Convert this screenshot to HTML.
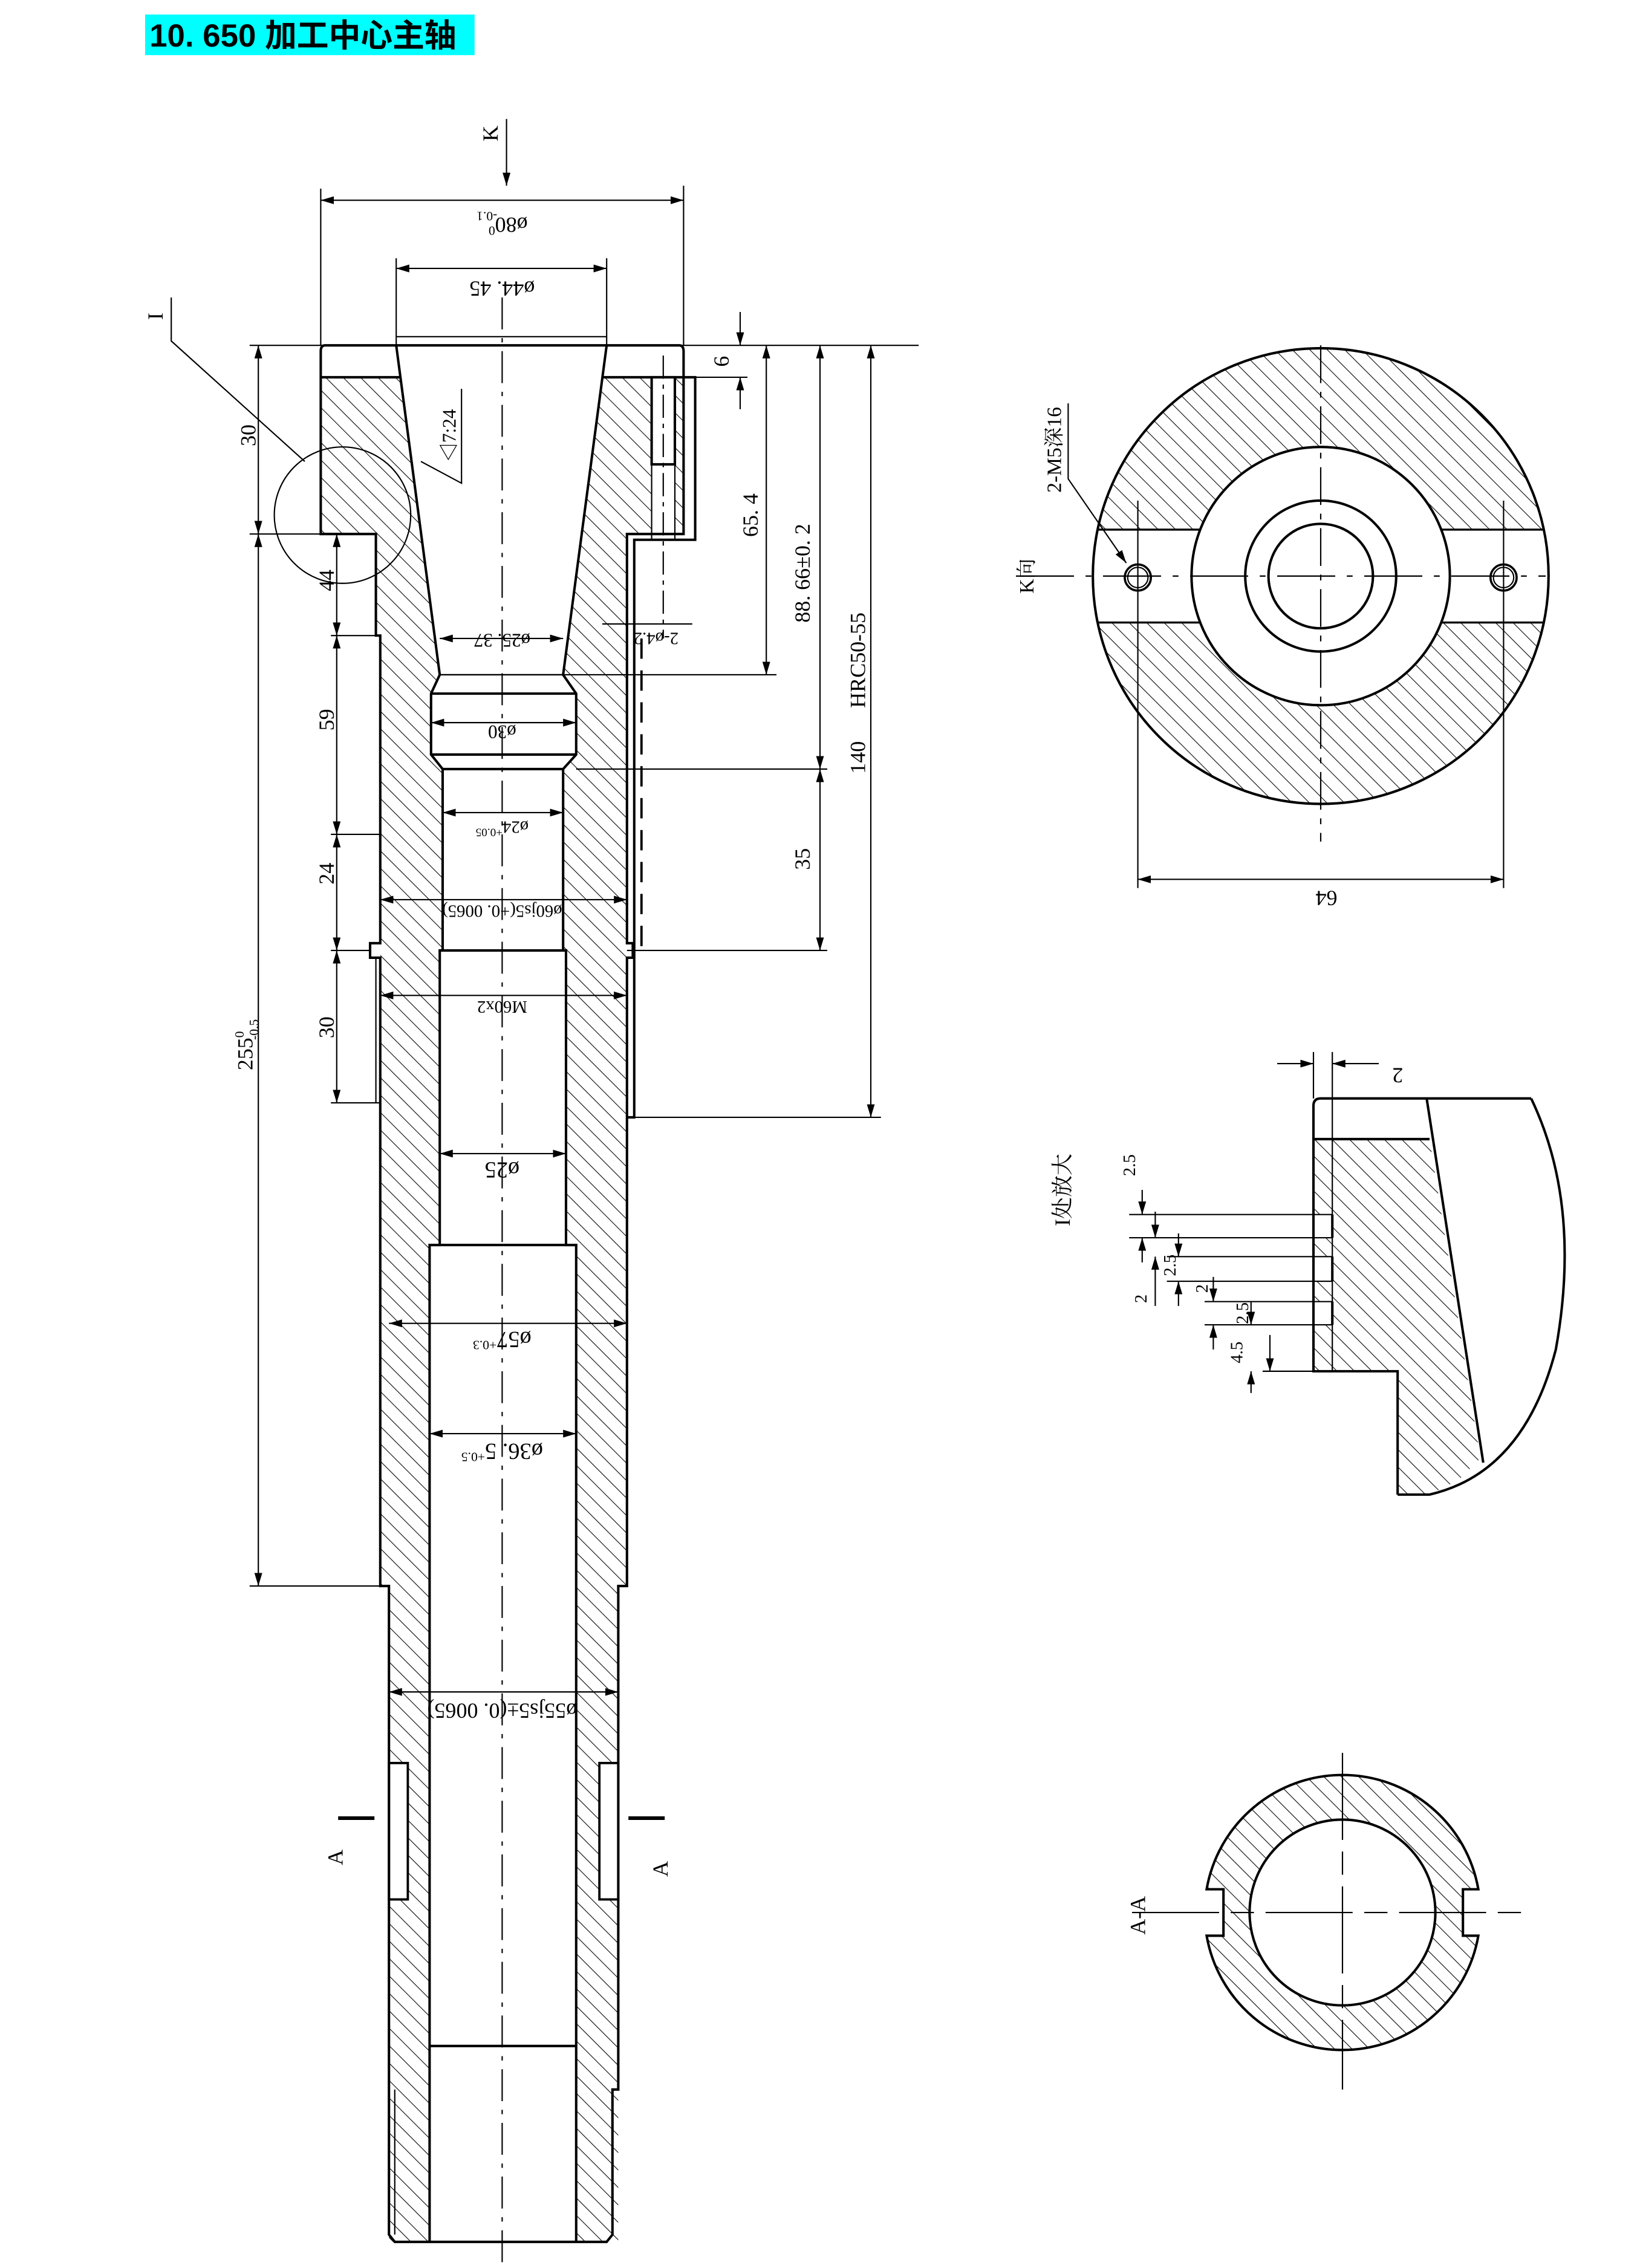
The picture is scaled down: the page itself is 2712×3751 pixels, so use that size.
<!DOCTYPE html>
<html><head><meta charset="utf-8"><style>
html,body{margin:0;padding:0;background:#fff;}
svg{display:block;}
text{font-family:"Liberation Serif","Noto Serif CJK SC",serif;fill:#000;}
</style></head><body>
<svg width="2712" height="3751" viewBox="0 0 1130 1563" preserveAspectRatio="none" xmlns="http://www.w3.org/2000/svg">
<defs>
<pattern id="h" width="8.5" height="8.5" patternUnits="userSpaceOnUse" patternTransform="rotate(-45)">
<line x1="0" y1="0" x2="0" y2="8.5" stroke="#000" stroke-width="0.9"/>
</pattern>
<marker id="a" viewBox="0 0 10 10" refX="10" refY="5" markerWidth="9" markerHeight="9" markerUnits="userSpaceOnUse" orient="auto-start-reverse">
<path d="M0,2 L10,5 L0,8 Z" fill="#000"/>
</marker>
<mask id="km">
<circle cx="910" cy="397" r="157" fill="#fff"/>
<circle cx="910" cy="397" r="89" fill="#000"/>
<rect x="740" y="365" width="340" height="64" fill="#000"/>
</mask>
<mask id="am">
<path d="M831.4,1302 A95,95 0 0 1 1018.6,1302 L1008,1302 L1008,1334 L1018.6,1334 A95,95 0 0 1 831.4,1334 L843,1334 L843,1302 Z" fill="#fff"/>
<circle cx="925" cy="1318" r="64" fill="#000"/>
</mask>
</defs>

<!-- title -->
<rect x="100" y="10" width="227" height="28" fill="#00ffff"/>
<text x="103" y="32" style="font-family:'Liberation Sans','Noto Sans CJK SC',sans-serif;font-weight:bold" font-size="22">10. 650 加工中心主轴</text>

<g stroke="#000" fill="none">
<polygon points="221,260 276,260 303,465 297,478 297,520 305,530 305,655 303,655 303,858 296,858 296,1545 268,1545 268,1093 262,1093 262,438 259,438 259,368 221,368" fill="url(#h)" stroke="none"/>
<polygon points="415,260 471,260 471,368 432,368 432,1093 426,1093 426,1545 397,1545 397,858 390,858 390,655 388,655 388,530 397,520 397,478 388,465" fill="url(#h)" stroke="none"/>
<rect x="449" y="260" width="16" height="108" fill="#fff" stroke="none"/>
<rect x="268" y="1215" width="13" height="94" fill="#fff" stroke-width="1.6"/>
<rect x="413" y="1215" width="13" height="94" fill="#fff" stroke-width="1.6"/>

<g stroke-width="1.7">
<path d="M224,238 L468,238 Q471,238 471,242 L471,368 L432,368 L432,650 L436,650 L436,660 L432,660 L432,1093 L426,1093 L426,1440 L422,1440 L422,1540 L418,1545 L272,1545 L268,1540 L268,1440 L268,1093 L262,1093 L262,660 L255,660 L255,650 L262,650 L262,438 L259,438 L259,368 L221,368 L221,242 Q221,238 224,238 Z"/>
<line x1="221" y1="260" x2="276" y2="260"/>
<line x1="415" y1="260" x2="471" y2="260"/>
<polyline points="273,238 303,465 297,478 297,520 305,530 305,655 303,655 303,858 296,858 296,1545"/>
<polyline points="418,238 388,465 397,478 397,520 388,530 388,655 390,655 390,858 397,858 397,1545"/>
<line x1="303" y1="465" x2="388" y2="465" stroke-width="1"/>
<line x1="297" y1="478" x2="397" y2="478"/>
<line x1="297" y1="520" x2="397" y2="520"/>
<line x1="305" y1="530" x2="388" y2="530"/>
<line x1="303" y1="655" x2="390" y2="655"/>
<line x1="296" y1="858" x2="397" y2="858"/>
<line x1="296" y1="1410" x2="397" y2="1410"/>
<rect x="449" y="260" width="16" height="60"/>
<polyline points="471,260 479,260 479,372 437,372 437,770 432,770"/>
<line x1="449" y1="320" x2="449" y2="372" stroke-width="0.9"/>
<line x1="465" y1="320" x2="465" y2="372" stroke-width="0.9"/>
</g>
<line x1="259" y1="660" x2="259" y2="760" stroke-width="0.9"/>
<line x1="272" y1="1440" x2="272" y2="1540" stroke-width="0.9"/>
<line x1="422" y1="1440" x2="422" y2="1540" stroke-width="0.9"/>
<line x1="457" y1="245" x2="457" y2="440" stroke-width="0.9" stroke-dasharray="16,4,3,4"/>
<line x1="442" y1="440" x2="442" y2="660" stroke-width="1.6" stroke-dasharray="14,8"/>
<line x1="346" y1="205" x2="346" y2="1563" stroke-width="0.9" stroke-dasharray="22,6,3,6"/>

<g stroke-width="0.9">
<line x1="349" y1="82" x2="349" y2="128" marker-end="url(#a)"/>
<line x1="221" y1="130" x2="221" y2="238"/>
<line x1="471" y1="128" x2="471" y2="238"/>
<line x1="221" y1="138" x2="471" y2="138" marker-start="url(#a)" marker-end="url(#a)"/>
<line x1="273" y1="178" x2="273" y2="238"/>
<line x1="418" y1="178" x2="418" y2="238"/>
<line x1="273" y1="185" x2="418" y2="185" marker-start="url(#a)" marker-end="url(#a)"/>
<line x1="273" y1="232" x2="418" y2="232"/>
<line x1="172" y1="238" x2="633" y2="238"/>
<line x1="471" y1="260" x2="515" y2="260"/>
<line x1="510" y1="215" x2="510" y2="238" marker-end="url(#a)"/>
<line x1="510" y1="282" x2="510" y2="260" marker-end="url(#a)"/>
<line x1="388" y1="465" x2="535" y2="465"/>
<line x1="528" y1="238" x2="528" y2="465" marker-start="url(#a)" marker-end="url(#a)"/>
<line x1="397" y1="530" x2="570" y2="530"/>
<line x1="565" y1="238" x2="565" y2="530" marker-start="url(#a)" marker-end="url(#a)"/>
<line x1="432" y1="655" x2="570" y2="655"/>
<line x1="565" y1="530" x2="565" y2="655" marker-start="url(#a)" marker-end="url(#a)"/>
<line x1="437" y1="770" x2="607" y2="770"/>
<line x1="600" y1="238" x2="600" y2="770" marker-start="url(#a)" marker-end="url(#a)"/>
<line x1="415" y1="430" x2="477" y2="430"/>
<line x1="303" y1="440" x2="388" y2="440" marker-start="url(#a)" marker-end="url(#a)"/>
<line x1="297" y1="498" x2="397" y2="498" marker-start="url(#a)" marker-end="url(#a)"/>
<line x1="305" y1="560" x2="388" y2="560" marker-start="url(#a)" marker-end="url(#a)"/>
<line x1="262" y1="620" x2="432" y2="620" marker-start="url(#a)" marker-end="url(#a)"/>
<line x1="262" y1="686" x2="432" y2="686" marker-start="url(#a)" marker-end="url(#a)"/>
<line x1="303" y1="795" x2="390" y2="795" marker-start="url(#a)" marker-end="url(#a)"/>
<line x1="268" y1="912" x2="432" y2="912" marker-start="url(#a)" marker-end="url(#a)"/>
<line x1="296" y1="988" x2="397" y2="988" marker-start="url(#a)" marker-end="url(#a)"/>
<line x1="268" y1="1166" x2="426" y2="1166" marker-start="url(#a)" marker-end="url(#a)"/>
<line x1="172" y1="368" x2="221" y2="368"/>
<line x1="172" y1="1093" x2="262" y2="1093"/>
<line x1="178" y1="238" x2="178" y2="368" marker-start="url(#a)" marker-end="url(#a)"/>
<line x1="178" y1="368" x2="178" y2="1093" marker-start="url(#a)" marker-end="url(#a)"/>
<line x1="228" y1="438" x2="262" y2="438"/>
<line x1="228" y1="575" x2="262" y2="575"/>
<line x1="228" y1="655" x2="255" y2="655"/>
<line x1="228" y1="760" x2="262" y2="760"/>
<line x1="232" y1="368" x2="232" y2="438" marker-start="url(#a)" marker-end="url(#a)"/>
<line x1="232" y1="438" x2="232" y2="575" marker-start="url(#a)" marker-end="url(#a)"/>
<line x1="232" y1="575" x2="232" y2="655" marker-start="url(#a)" marker-end="url(#a)"/>
<line x1="232" y1="655" x2="232" y2="760" marker-start="url(#a)" marker-end="url(#a)"/>
<circle cx="236" cy="355" r="47"/>
<polyline points="118,205 118,235 210,318"/>
<polyline points="290,318 318,333 318,268"/>
</g>
<line x1="233" y1="1253" x2="258" y2="1253" stroke-width="2.5"/>
<line x1="433" y1="1253" x2="458" y2="1253" stroke-width="2.5"/>
</g>

<g font-size="15">
<text transform="translate(343,92) rotate(-90)" text-anchor="middle">K</text>
<text transform="translate(346,150) rotate(180)" text-anchor="middle">ø80<tspan font-size="9" dy="-6">0</tspan><tspan font-size="9" dx="-6" dy="10">-0.1</tspan></text>
<text transform="translate(346,194) rotate(180)" text-anchor="middle">ø44. 45</text>
<text transform="translate(112,218) rotate(-90)" text-anchor="middle">I</text>
<text transform="translate(314,300) rotate(-90)" text-anchor="middle" font-size="13">◁7:24</text>
<text transform="translate(502,249) rotate(-90)" text-anchor="middle">6</text>
<text transform="translate(522,355) rotate(-90)" text-anchor="middle">65. 4</text>
<text transform="translate(558,395) rotate(-90)" text-anchor="middle">88. 66±0. 2</text>
<text transform="translate(596,455) rotate(-90)" text-anchor="middle">HRC50-55</text>
<text transform="translate(596,522) rotate(-90)" text-anchor="middle">140</text>
<text transform="translate(558,592) rotate(-90)" text-anchor="middle">35</text>
<text transform="translate(452,436) rotate(180)" text-anchor="middle" font-size="12">2-ø4.2</text>
<text transform="translate(346,437) rotate(180)" text-anchor="middle" font-size="13">ø25. 37</text>
<text transform="translate(346,500) rotate(180)" text-anchor="middle" font-size="13">ø30</text>
<text transform="translate(346,566) rotate(180)" text-anchor="middle" font-size="12">ø24<tspan font-size="8" dy="-5">+0.05</tspan></text>
<text transform="translate(346,624) rotate(180)" text-anchor="middle" font-size="12">ø60js5(+0. 0065)</text>
<text transform="translate(346,690) rotate(180)" text-anchor="middle" font-size="12">M60x2</text>
<text transform="translate(346,801) rotate(180)" text-anchor="middle" font-size="16">ø25</text>
<text transform="translate(346,918) rotate(180)" text-anchor="middle" font-size="16">ø57<tspan font-size="9" dy="-6">+0.3</tspan></text>
<text transform="translate(346,995) rotate(180)" text-anchor="middle" font-size="16">ø36. 5<tspan font-size="9" dy="-6">+0.5</tspan></text>
<text transform="translate(346,1174) rotate(180)" text-anchor="middle" font-size="15">ø55js5±(0. 0065)</text>
<text transform="translate(176,300) rotate(-90)" text-anchor="middle">30</text>
<text transform="translate(230,400) rotate(-90)" text-anchor="middle">44</text>
<text transform="translate(230,496) rotate(-90)" text-anchor="middle">59</text>
<text transform="translate(230,602) rotate(-90)" text-anchor="middle">24</text>
<text transform="translate(230,708) rotate(-90)" text-anchor="middle">30</text>
<text transform="translate(174,720) rotate(-90)" text-anchor="middle">255<tspan font-size="9" dy="-6">0</tspan><tspan font-size="9" dx="-6" dy="10">-0.5</tspan></text>
<text transform="translate(236,1280) rotate(-90)" text-anchor="middle">A</text>
<text transform="translate(460,1288) rotate(-90)" text-anchor="middle">A</text>
</g>

<g stroke="#000" fill="none">
<circle cx="910" cy="397" r="157" fill="url(#h)" mask="url(#km)" stroke="none"/>
<circle cx="910" cy="397" r="157" stroke-width="1.7"/>
<circle cx="910" cy="397" r="89" stroke-width="1.7"/>
<circle cx="910" cy="397" r="52" stroke-width="1.7"/>
<circle cx="910" cy="397" r="36" stroke-width="1.7"/>
<line x1="756" y1="365" x2="827" y2="365" stroke-width="1.4"/>
<line x1="756" y1="429" x2="827" y2="429" stroke-width="1.4"/>
<line x1="993" y1="365" x2="1064" y2="365" stroke-width="1.4"/>
<line x1="993" y1="429" x2="1064" y2="429" stroke-width="1.4"/>
<circle cx="784" cy="398" r="9" stroke-width="1.5"/>
<circle cx="784" cy="398" r="7" stroke-width="0.9"/>
<circle cx="1036" cy="398" r="9" stroke-width="1.5"/>
<circle cx="1036" cy="398" r="7" stroke-width="0.9"/>
<g stroke-width="0.9">
<line x1="700" y1="397" x2="1065" y2="397" stroke-dasharray="40,8,4,8"/>
<line x1="910" y1="238" x2="910" y2="580" stroke-dasharray="26,6,4,6"/>
<line x1="784" y1="345" x2="784" y2="612"/>
<line x1="1036" y1="345" x2="1036" y2="612"/>
<line x1="784" y1="606" x2="1036" y2="606" marker-start="url(#a)" marker-end="url(#a)"/>
<polyline points="736,278 736,330 776,388" marker-end="url(#a)"/>
</g>
</g>
<text transform="translate(914,614) rotate(180)" text-anchor="middle" font-size="15">64</text>
<text transform="translate(712,397) rotate(-90)" text-anchor="middle" font-size="14">K向</text>
<text transform="translate(731,310) rotate(-90)" text-anchor="middle" font-size="14">2-M5深16</text>

<g stroke="#000" fill="none">
<polygon points="905,785 985,785 1020,1005 1005,1020 985,1030 963,1030 963,945 905,945" fill="url(#h)" stroke="none"/>
<rect x="905" y="837" width="13" height="16" fill="#fff" stroke="none"/>
<rect x="905" y="866" width="13" height="17" fill="#fff" stroke="none"/>
<rect x="905" y="897" width="13" height="16" fill="#fff" stroke="none"/>
<g stroke-width="1.7">
<path d="M963,1030 L963,945 L905,945 L905,762 Q905,757 910,757 L1055,757"/>
<line x1="905" y1="785" x2="985" y2="785"/>
<line x1="983" y1="757" x2="1022" y2="1008"/>
<path d="M1055,757 Q1090,830 1072,930 Q1050,1015 985,1030 L963,1030"/>
<polyline points="918,837 918,853"/><polyline points="918,866 918,883"/><polyline points="918,897 918,913"/>
</g>
<g stroke-width="0.9">
<line x1="905" y1="725" x2="905" y2="757"/>
<line x1="918" y1="725" x2="918" y2="945"/>
<line x1="880" y1="733" x2="905" y2="733" marker-end="url(#a)"/>
<line x1="950" y1="733" x2="918" y2="733" marker-end="url(#a)"/>
<line x1="778" y1="837" x2="918" y2="837"/>
<line x1="778" y1="853" x2="918" y2="853"/>
<line x1="804" y1="866" x2="918" y2="866"/>
<line x1="804" y1="883" x2="918" y2="883"/>
<line x1="830" y1="897" x2="918" y2="897"/>
<line x1="830" y1="913" x2="918" y2="913"/>
<line x1="870" y1="945" x2="905" y2="945"/>
<line x1="787" y1="820" x2="787" y2="837" marker-end="url(#a)"/>
<line x1="787" y1="870" x2="787" y2="853" marker-end="url(#a)"/>
<line x1="796" y1="835" x2="796" y2="853" marker-end="url(#a)"/>
<line x1="796" y1="900" x2="796" y2="866" marker-end="url(#a)"/>
<line x1="812" y1="850" x2="812" y2="866" marker-end="url(#a)"/>
<line x1="812" y1="900" x2="812" y2="883" marker-end="url(#a)"/>
<line x1="836" y1="880" x2="836" y2="897" marker-end="url(#a)"/>
<line x1="836" y1="930" x2="836" y2="913" marker-end="url(#a)"/>
<line x1="862" y1="897" x2="862" y2="913" marker-end="url(#a)"/>
<line x1="862" y1="960" x2="862" y2="945" marker-end="url(#a)"/>
<line x1="875" y1="920" x2="875" y2="945" marker-end="url(#a)"/>
</g>
</g>
<g font-size="12">
<text transform="translate(963,736) rotate(180)" text-anchor="middle" font-size="15">2</text>
<text transform="translate(737,820) rotate(-90)" text-anchor="middle" font-size="15">I处放大</text>
<text transform="translate(782,803) rotate(-90)" text-anchor="middle">2.5</text>
<text transform="translate(810,872) rotate(-90)" text-anchor="middle">2.5</text>
<text transform="translate(790,895) rotate(-90)" text-anchor="middle">2</text>
<text transform="translate(832,888) rotate(-90)" text-anchor="middle">2</text>
<text transform="translate(860,905) rotate(-90)" text-anchor="middle">2.5</text>
<text transform="translate(856,932) rotate(-90)" text-anchor="middle">4.5</text>
</g>

<g stroke="#000" fill="none">
<rect x="820" y="1210" width="210" height="220" fill="url(#h)" mask="url(#am)" stroke="none"/>
<path d="M831.4,1302 A95,95 0 0 1 1018.6,1302 L1008,1302 L1008,1334 L1018.6,1334 A95,95 0 0 1 831.4,1334 L843,1334 L843,1302 Z" stroke-width="1.7"/>
<circle cx="925" cy="1318" r="64" stroke-width="1.7"/>
<g stroke-width="0.9">
<line x1="780" y1="1318" x2="1055" y2="1318" stroke-dasharray="60,8,16,8"/>
<line x1="925" y1="1208" x2="925" y2="1440" stroke-dasharray="60,8,16,8"/>
</g>
</g>
<text transform="translate(789,1320) rotate(-90)" text-anchor="middle" font-size="15">A-A</text>
</svg>
</body></html>
